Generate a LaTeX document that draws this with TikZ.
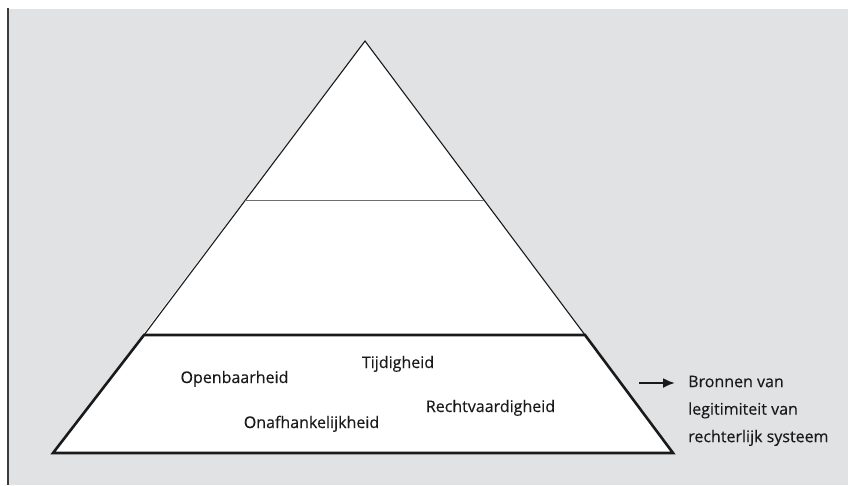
\documentclass[tikz,border=0pt]{standalone}
\usepackage{fontspec}
\setmainfont{Open Sans}
\newfontfamily\captionface{Open Sans}[FakeBold=0.3]
\usetikzlibrary{arrows.meta}
\definecolor{panelgray}{HTML}{E1E2E4}
\definecolor{inkdark}{HTML}{1A1A1A}
\definecolor{midline}{HTML}{6E6E6E}
\tikzset{
  thinedge/.style={draw=inkdark, line width=1.1pt, line join=miter},
  thickedge/.style={draw=inkdark, line width=2.6pt, line join=miter},
  layerlabel/.style={font=\captionface\fontsize{16}{19}\selectfont, text=inkdark, inner sep=0pt, anchor=base},
  sidelabel/.style={font=\captionface\fontsize{16}{27.5}\selectfont, text=inkdark, align=left, inner sep=0pt, anchor=north west},
  pointer/.style={-{Latex[length=12pt,width=10pt]}, line width=2.2pt, draw=inkdark}
}
\begin{document}
\begin{tikzpicture}[x=1pt,y=-1pt]
  \useasboundingbox (0,0) rectangle (848,485);
  % grey panel and its left rule
  \fill[panelgray] (8.5,9) rectangle (848,485);
  \draw[draw=inkdark!85, line width=1.6pt] (8,8) -- (8,485);

  % pyramid corners
  \coordinate (apex) at (365,41);
  \coordinate (bl) at (53,453);
  \coordinate (br) at (673,453);
  \coordinate (ml) at (245,200.5);
  \coordinate (mr) at (484,200.5);
  \coordinate (ll) at (144,335);
  \coordinate (lr) at (585,335);

  % upper part: white triangle with thin outline
  \fill[white] (apex) -- (bl) -- (br) -- cycle;
  \draw[thinedge] (ll) -- (apex) -- (lr);
  \draw[draw=midline, line width=1.3pt] (ml) -- (mr);

  % base layer: thick trapezoid
  \draw[thickedge] (ll) -- (lr) -- (br) -- (bl) -- cycle;

  % base layer labels (placed on their baselines)
  \node[layerlabel] (open) at (234.5,383) {Openbaarheid};
  \node[layerlabel] (tijd) at (398,368) {Tijdigheid};
  \node[layerlabel] (onaf) at (311.5,428) {Onafhankelijkheid};
  \node[layerlabel] (recht) at (490.5,412) {Rechtvaardigheid};

  % side caption with pointer
  \node[sidelabel] (bronnen) at (688,375.5) {Bronnen van\\legitimiteit van\\rechterlijk systeem};
  \coordinate (ptail) at (639,383);
  \draw[pointer, shorten >=13pt] (ptail) -- (ptail -| bronnen.west);
\end{tikzpicture}
\end{document}
